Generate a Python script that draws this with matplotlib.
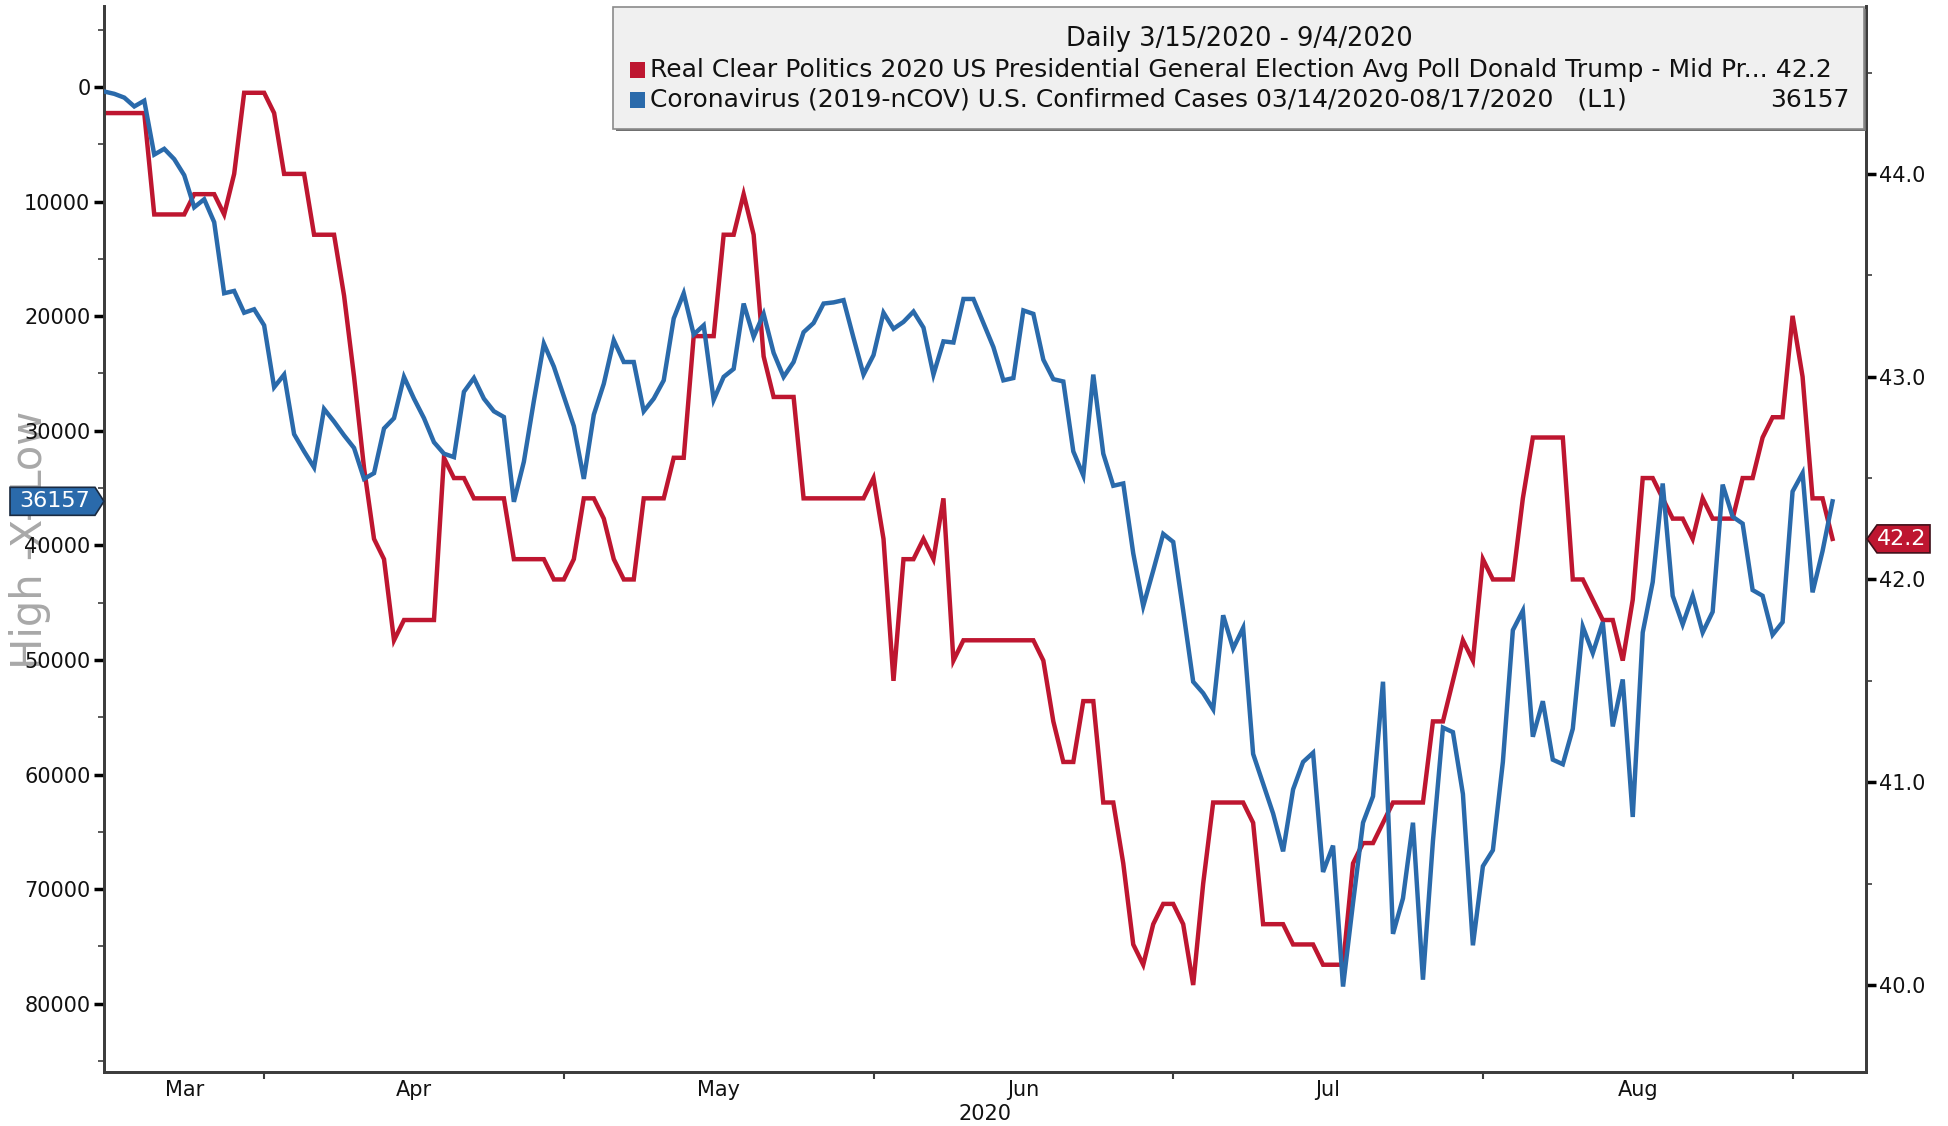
import numpy as np
import pandas as pd
import matplotlib
matplotlib.use("Agg")
import matplotlib.pyplot as plt
import matplotlib.dates as mdates
from matplotlib.patches import Polygon, Rectangle
from matplotlib.ticker import MultipleLocator, FuncFormatter, FixedLocator

plt.rcParams['font.family'] = ['DejaVu Sans']

# ---------------- data ----------------
dates = pd.date_range("2020-03-15", "2020-09-04", freq="D")

trump_poll = [
    44.3, 44.3, 44.3, 44.3, 44.3, 43.8, 43.8, 43.8, 43.8, 43.9,
    43.9, 43.9, 43.8, 44.0, 44.4, 44.4, 44.4, 44.3, 44.0, 44.0,
    44.0, 43.7, 43.7, 43.7, 43.4, 43.0, 42.55, 42.2, 42.1, 41.7,
    41.8, 41.8, 41.8, 41.8, 42.6, 42.5, 42.5, 42.4, 42.4, 42.4,
    42.4, 42.1, 42.1, 42.1, 42.1, 42.0, 42.0, 42.1, 42.4, 42.4,
    42.3, 42.1, 42.0, 42.0, 42.4, 42.4, 42.4, 42.6, 42.6, 43.2,
    43.2, 43.2, 43.7, 43.7, 43.9, 43.7, 43.1, 42.9, 42.9, 42.9,
    42.4, 42.4, 42.4, 42.4, 42.4, 42.4, 42.4, 42.5, 42.2, 41.5,
    42.1, 42.1, 42.2, 42.1, 42.4, 41.6, 41.7, 41.7, 41.7, 41.7,
    41.7, 41.7, 41.7, 41.7, 41.6, 41.3, 41.1, 41.1, 41.4, 41.4,
    40.9, 40.9, 40.6, 40.2, 40.1, 40.3, 40.4, 40.4, 40.3, 40.0,
    40.5, 40.9, 40.9, 40.9, 40.9, 40.8, 40.3, 40.3, 40.3, 40.2,
    40.2, 40.2, 40.1, 40.1, 40.1, 40.6, 40.7, 40.7, 40.8, 40.9,
    40.9, 40.9, 40.9, 41.3, 41.3, 41.5, 41.7, 41.6, 42.1, 42.0,
    42.0, 42.0, 42.4, 42.7, 42.7, 42.7, 42.7, 42.0, 42.0, 41.9,
    41.8, 41.8, 41.6, 41.9, 42.5, 42.5, 42.4, 42.3, 42.3, 42.2,
    42.4, 42.3, 42.3, 42.3, 42.5, 42.5, 42.7, 42.8, 42.8, 43.3,
    43.0, 42.4, 42.4, 42.2,
]

us_cases = [
    400, 600, 930, 1700, 1200, 5900, 5400, 6300, 7700, 10500,
    9800, 11800, 18000, 17800, 19700, 19400, 20800, 26200, 25100, 30300,
    31800, 33200, 28100, 29200, 30400, 31500, 34200, 33700, 29800, 28900,
    25300, 27200, 28900, 31000, 32000, 32300, 26600, 25400, 27200, 28300,
    28800, 36200, 32700, 27400, 22400, 24400, 27000, 29600, 34200, 28600,
    25900, 22100, 24000, 24000, 28300, 27200, 25600, 20200, 18000, 21600,
    20800, 27300, 25300, 24600, 18900, 21800, 19800, 23200, 25300, 24000,
    21400, 20600, 18900, 18800, 18600, 21900, 25100, 23400, 19700, 21100,
    20500, 19600, 21000, 25100, 22200, 22300, 18500, 18500, 20600, 22700,
    25600, 25400, 19500, 19800, 23800, 25500, 25700, 31800, 33900, 25100,
    32000, 34800, 34600, 40700, 45300, 42200, 39000, 39700, 45700, 51900,
    52900, 54300, 46100, 49000, 47200, 58200, 60800, 63400, 66700, 61300,
    58900, 58100, 68500, 66200, 78500, 71200, 64200, 61900, 51900, 73900,
    70800, 64200, 77900, 65800, 55900, 56300, 61700, 74900, 68000, 66600,
    58900, 47400, 45700, 56700, 53600, 58700, 59100, 56000, 47100, 49400,
    46700, 55800, 51700, 63700, 47600, 43200, 34600, 44400, 46900, 44400,
    47600, 45800, 34700, 37500, 38100, 43900, 44400, 47800, 46700, 35300,
    33700, 44100, 40500, 36157,
]

legend_title = "Daily 3/15/2020 - 9/4/2020"
red_label = "Real Clear Politics 2020 US Presidential General Election Avg Poll Donald Trump - Mid Pr..."
blue_label = "Coronavirus (2019-nCOV) U.S. Confirmed Cases 03/14/2020-08/17/2020   (L1)"
red_last = "42.2"
blue_last = "36157"
month_labels = ["Mar", "Apr", "May", "Jun", "Jul", "Aug"]
month_ends = pd.to_datetime(["2020-03-31", "2020-04-30", "2020-05-31",
                             "2020-06-30", "2020-07-31", "2020-08-31"])

# ---------------- style ----------------
RED = "#be1630"
BLUE = "#2a6aab"
AXC = "#3c3c3c"
W, H = 1948, 1126

fig = plt.figure(figsize=(W / 100, H / 100), dpi=100)
L, R, T, B = 104.3, 1866.0, 6.0, 1072.0
ax = fig.add_axes([L / W, 1 - B / H, (R - L) / W, (B - T) / H])
axb = ax.twinx()

x0 = mdates.date2num(dates[0])
xr = x0 + 176.35
ax.set_xlim(x0, xr)

# red (right axis)
ax.plot(dates, trump_poll, color=RED, lw=3.2, solid_joinstyle="miter", zorder=2)
ax.set_ylim(39.571, 44.828)
ax.yaxis.tick_right()
ax.yaxis.set_major_locator(MultipleLocator(1.0))
ax.yaxis.set_minor_locator(MultipleLocator(0.5))
ax.yaxis.set_major_formatter(FuncFormatter(lambda v, p: f"{v:.1f}"))

# blue (left axis, inverted)
axb.plot(dates, us_cases, color=BLUE, lw=3.2, solid_joinstyle="miter", zorder=3)
axb.set_ylim(85955, -7065)
axb.yaxis.tick_left()
axb.yaxis.set_major_locator(FixedLocator(np.arange(0, 80001, 10000)))
axb.yaxis.set_minor_locator(FixedLocator(np.arange(-5000, 85001, 10000)))
axb.yaxis.set_major_formatter(FuncFormatter(lambda v, p: f"{int(v)}"))

# x axis: ticks at month ends, labels centred in each month span
ax.xaxis.set_major_locator(FixedLocator(mdates.date2num(month_ends)))
ax.xaxis.set_major_formatter(FuncFormatter(lambda v, p: ""))
edges = [x0] + list(mdates.date2num(month_ends))
mids = [(edges[i] + edges[i + 1]) / 2 for i in range(len(month_labels))]
ax.xaxis.set_minor_locator(FixedLocator(mids))
ax.xaxis.set_minor_formatter(FuncFormatter(lambda v, p: month_labels[p] if p < len(month_labels) else ""))
ax.tick_params(axis="x", which="major", direction="out", length=5, width=1.5, color=AXC)
ax.tick_params(axis="x", which="minor", length=0, pad=6, labelsize=15, labelcolor="#111111")
axb.tick_params(axis="x", which="both", length=0, labelbottom=False)

ax.tick_params(axis="y", which="major", direction="out", length=7, width=2.5, color="black",
               labelsize=15, pad=2, labelcolor="#111111")
ax.tick_params(axis="y", which="minor", direction="out", length=4, width=1.2, color=AXC)
axb.tick_params(axis="y", which="major", direction="out", length=7, width=2.5, color="black",
                labelsize=15, pad=3, labelcolor="#111111")
axb.tick_params(axis="y", which="minor", direction="out", length=4, width=1.2, color=AXC)

for a in (ax, axb):
    a.spines["top"].set_visible(False)
    for s in ("left", "right", "bottom"):
        a.spines[s].set_color(AXC)
        a.spines[s].set_linewidth(2.0)
axb.set_facecolor("none")

fig.text(985 / W, 1 - 1114 / H, "2020", ha="center", va="center", fontsize=15, color="#111111")

# watermark
fig.text(30 / W, 1 - 540 / H, "High -X- Low", rotation=90, ha="center", va="center",
         fontsize=30, color="#a8a8a8", zorder=-1)

# ---------------- legend box ----------------
def fx(px):
    return px / W

def fy(py):
    return 1 - py / H

LFS = 18.0
shadow = Rectangle((fx(616), fy(131)), fx(1866) - fx(616), fy(9) - fy(131),
                   transform=fig.transFigure, facecolor="#707070", edgecolor="none", zorder=9)
box = Rectangle((fx(613), fy(129)), fx(1864) - fx(613), fy(7) - fy(129),
                transform=fig.transFigure, facecolor="#f0f0f0", edgecolor="#8a8a8a", lw=1.2, zorder=10)
fig.patches.extend([shadow, box])
fig.text(fx(1239), fy(39), legend_title, ha="center", va="center", fontsize=18.5, color="#111111", zorder=11)

# row 1: label followed by its last value
fig.patches.append(Rectangle((fx(630), fy(78)), fx(645) - fx(630), fy(62) - fy(78),
                             transform=fig.transFigure, facecolor=RED, edgecolor="none", zorder=11))
fig.text(fx(650), fy(70), f"{red_label} {red_last}", ha="left", va="center", fontsize=LFS,
         color="#111111", zorder=11)
# row 2: label, value right aligned
fig.patches.append(Rectangle((fx(630), fy(108)), fx(645) - fx(630), fy(92) - fy(108),
                             transform=fig.transFigure, facecolor=BLUE, edgecolor="none", zorder=11))
fig.text(fx(650), fy(100), blue_label, ha="left", va="center", fontsize=LFS, color="#111111", zorder=11)
fig.text(fx(1849), fy(100), blue_last, ha="right", va="center", fontsize=LFS, color="#111111", zorder=11)

# ---------------- value tags ----------------
fig.canvas.draw()
_, yb = axb.transData.transform((x0, us_cases[-1]))
_, yr = ax.transData.transform((x0, trump_poll[-1]))
yb_top = H - yb  # pixel from top
yr_top = H - yr
hh = 14
blue_tag = Polygon([(fx(10), fy(yb_top - hh)), (fx(95), fy(yb_top - hh)), (fx(104), fy(yb_top)),
                    (fx(95), fy(yb_top + hh)), (fx(10), fy(yb_top + hh))], closed=True,
                   transform=fig.transFigure, facecolor=BLUE, edgecolor="#1a2a40", lw=1.2, zorder=12)
red_tag = Polygon([(fx(1867), fy(yr_top)), (fx(1877), fy(yr_top - hh)), (fx(1930), fy(yr_top - hh)),
                   (fx(1930), fy(yr_top + hh)), (fx(1877), fy(yr_top + hh))], closed=True,
                  transform=fig.transFigure, facecolor=RED, edgecolor="#40101a", lw=1.2, zorder=12)
fig.patches.extend([blue_tag, red_tag])
fig.text(fx(55), fy(yb_top), blue_last, ha="center", va="center", fontsize=16, color="white", zorder=13)
fig.text(fx(1902), fy(yr_top), red_last, ha="center", va="center", fontsize=16, color="white", zorder=13)

fig.savefig("out.png", dpi=100)
